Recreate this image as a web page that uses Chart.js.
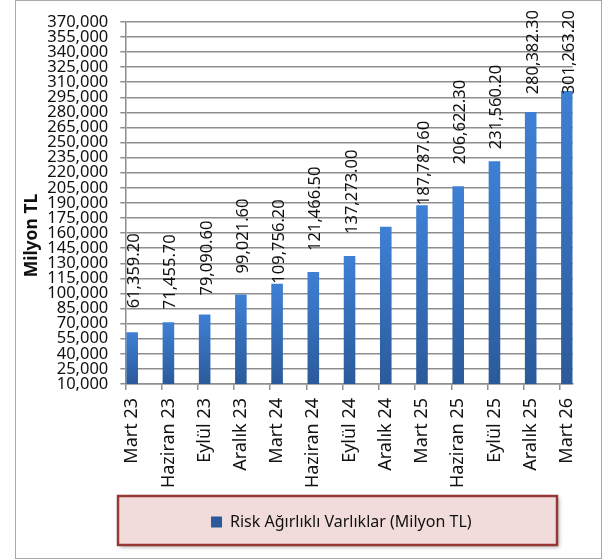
<!DOCTYPE html>
<html>
<head>
<meta charset="utf-8">
<script src="https://cdn.jsdelivr.net/npm/chart.js@4/dist/chart.umd.min.js"></script>
<style>
  html, body { margin: 0; padding: 0; background: #fff; }
  #wrap { position: relative; width: 603px; height: 559px; }
  #frame { position: absolute; left: 15px; top: 0; width: 587px; height: 559px;
           border: 1.5px solid #a9a9a9; box-sizing: border-box; }
  #c { position: absolute; left: 0; top: 0; }
</style>
</head>
<body>
<div id="wrap">
  <div id="frame"></div>
  <canvas id="c" width="603" height="559"></canvas>
</div>
<script>
// Quarter-end periods
const categories = ['Mart 23', 'Haziran 23', 'Eylül 23', 'Aralık 23', 'Mart 24', 'Haziran 24',
  'Eylül 24', 'Aralık 24', 'Mart 25', 'Haziran 25', 'Eylül 25', 'Aralık 25', 'Mart 26'];

// Risk weighted assets, million TL
const riskWeightedAssets = [61359.2, 71455.7, 79090.6, 99021.6, 109756.2, 121466.5,
  137273.0, 166300.0, 187787.6, 206622.3, 231560.2, 280382.3, 301263.2];

// Value axis ticks
const yTickValues = [10000, 25000, 40000, 55000, 70000, 85000, 100000, 115000, 130000,
  145000, 160000, 175000, 190000, 205000, 220000, 235000, 250000, 265000, 280000,
  295000, 310000, 325000, 340000, 355000, 370000];

const seriesName = 'Risk Ağırlıklı Varlıklar (Milyon TL)';
const axisTitle = 'Milyon TL';

// ---- drawing setup ----
const FONT = "'Noto Sans', 'DejaVu Sans', sans-serif";
const GRID = '#8e8e8e';
const TEXT = '#111111';
const SOLID_BLUE = '#3a6fb8';
const X_SHIFT = 0.19;           // category ticks sit slightly left of each bar
Chart.defaults.font.family = FONT;

// gap (px) between each bar top and its rotated value label; null = label not shown
const labelGaps = [24, 13, 19, 21, 0, 21, 22, null, 0, 22, 12, 20, 20];

const fmt = v => v.toLocaleString('en-US', { minimumFractionDigits: 2, maximumFractionDigits: 2 });

function barFill(c) {
  const chart = c.chart;
  const ys = chart.scales && chart.scales.y;
  if (!ys || !c.raw || c.type !== 'data') return SOLID_BLUE;
  const top = ys.getPixelForValue(c.raw.y);
  const bot = ys.getPixelForValue(ys.min);
  if (!isFinite(top) || !isFinite(bot) || top === bot) return SOLID_BLUE;
  const g = chart.ctx.createLinearGradient(0, top, 0, bot);
  g.addColorStop(0, '#3e80d5');
  g.addColorStop(1, '#2b5a9a');
  return g;
}

const valueLabels = {
  id: 'valueLabels',
  afterDatasetsDraw(chart, args, opts) {
    const ctx = chart.ctx;
    const meta = chart.getDatasetMeta(0);
    ctx.save();
    ctx.font = opts.font;
    ctx.fillStyle = opts.color;
    ctx.textAlign = 'left';
    ctx.textBaseline = 'alphabetic';
    meta.data.forEach((bar, i) => {
      const gap = opts.gaps[i];
      if (gap == null) return;
      const text = fmt(riskWeightedAssets[i]);
      const w = ctx.measureText(text).width;
      const start = Math.max(bar.y - gap, opts.topLimit + w);
      ctx.save();
      ctx.translate(bar.x + opts.shift, start);
      ctx.rotate(-Math.PI / 2);
      ctx.fillText(text, 0, 0);
      ctx.restore();
    });
    ctx.restore();
  }
};

const legendFrame = {
  id: 'legendFrame',
  afterLayout(chart, args, opts) {
    const lg = chart.legend;
    if (!lg) return;
    const w = lg.right - lg.left;
    lg.left = opts.center - w / 2;
    lg.right = lg.left + w;
  },
  beforeDraw(chart, args, opts) {
    const ctx = chart.ctx;
    const [x, y, w, h] = opts.rect;
    ctx.save();
    ctx.shadowColor = 'rgba(0,0,0,0.35)';
    ctx.shadowBlur = 4;
    ctx.shadowOffsetX = 2;
    ctx.shadowOffsetY = 2;
    ctx.fillStyle = '#f2dcdb';
    ctx.fillRect(x, y, w, h);
    ctx.shadowColor = 'transparent';
    ctx.lineWidth = 2.5;
    ctx.strokeStyle = '#963836';
    ctx.strokeRect(x, y, w, h);
    ctx.restore();
  }
};

const sideTitle = {
  id: 'sideTitle',
  afterDraw(chart, args, opts) {
    const ctx = chart.ctx;
    ctx.save();
    ctx.font = opts.font;
    ctx.fillStyle = TEXT;
    ctx.textAlign = 'center';
    ctx.textBaseline = 'middle';
    ctx.translate(opts.x, opts.y);
    ctx.rotate(-Math.PI / 2);
    ctx.fillText(opts.text, 0, 0);
    ctx.restore();
  }
};

new Chart(document.getElementById('c'), {
  type: 'bar',
  data: {
    datasets: [{
      label: seriesName,
      data: categories.map((c, i) => ({ x: i, y: riskWeightedAssets[i] })),
      backgroundColor: barFill,
      borderWidth: 0,
      categoryPercentage: 1,
      barPercentage: 0.32
    }]
  },
  options: {
    responsive: false,
    animation: false,
    layout: { padding: { left: 16, right: 30.3, top: 20, bottom: 19 } },
    scales: {
      x: {
        type: 'linear',
        offset: false,
        min: -X_SHIFT,
        max: 12.16,
        afterBuildTicks(s) { s.ticks = categories.map((c, i) => ({ value: i - X_SHIFT })); },
        afterFit(s) { s.height = 110; },
        ticks: {
          callback: (v, i) => categories[i],
          autoSkip: false,
          minRotation: 90,
          maxRotation: 90,
          labelOffset: 6.9,
          padding: 8,
          color: TEXT,
          font: { size: 18 }
        },
        grid: { offset: false, drawOnChartArea: false, drawTicks: true, tickLength: 6, color: GRID, lineWidth: 1.5 },
        border: { color: GRID, width: 1.5 }
      },
      y: {
        min: 10000,
        max: 370000,
        afterBuildTicks(s) { s.ticks = yTickValues.map(v => ({ value: v })); },
        afterFit(s) { s.width = 109.3; },
        ticks: {
          autoSkip: false,
          callback: v => v.toLocaleString('en-US'),
          padding: 12,
          color: TEXT,
          font: { size: 16.5 }
        },
        grid: { color: GRID, lineWidth: 1.5, tickLength: 5 },
        border: { color: GRID, width: 1.5 }
      }
    },
    plugins: {
      tooltip: { enabled: false },
      legend: {
        position: 'bottom',
        labels: { boxWidth: 11, boxHeight: 11, padding: 20, color: TEXT, font: { size: 16 } }
      },
      valueLabels: { gaps: labelGaps, font: "16.5px " + FONT, color: TEXT, shift: 7, topLimit: 10 },
      legendFrame: { center: 341.3, rect: [118, 496, 439, 49] },
      sideTitle: { text: axisTitle, font: "bold 17.5px " + FONT, x: 32.5, y: 235.5 }
    }
  },
  plugins: [valueLabels, legendFrame, sideTitle]
});
</script>
</body>
</html>
